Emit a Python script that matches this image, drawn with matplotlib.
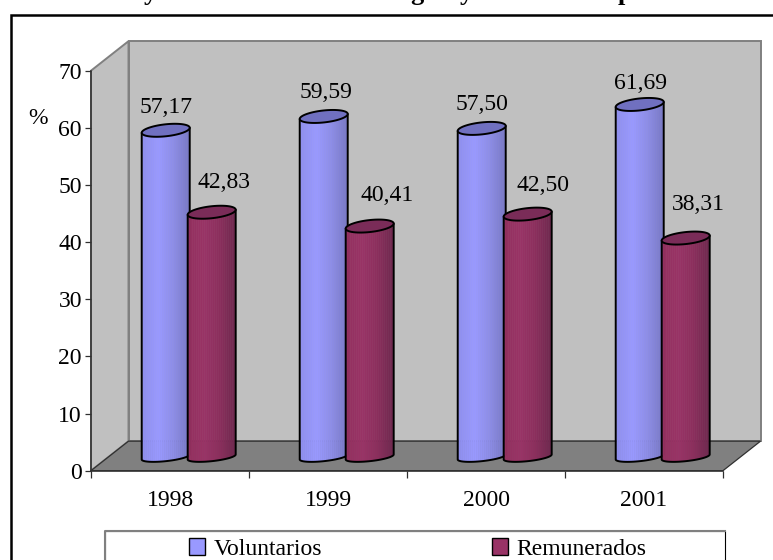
import numpy as np
import matplotlib
matplotlib.use("Agg")
import matplotlib.pyplot as plt
from matplotlib.colors import LinearSegmentedColormap
from matplotlib.patches import Polygon, Patch, Rectangle

years = ["1998", "1999", "2000", "2001"]
voluntarios = [57.17, 59.59, 57.50, 61.69]
remunerados = [42.83, 40.41, 42.50, 38.31]
value_labels_v = ["57,17", "59,59", "57,50", "61,69"]
value_labels_r = ["42,83", "40,41", "42,50", "38,31"]
y_ticks = [0, 10, 20, 30, 40, 50, 60, 70]

# label shifts in pixels
shift_v = [(0, 36), (2.5, 37.5), (0, 37.5), (1, 35)]
shift_r = [(12, 43), (17, 44.5), (15, 42), (13, 47.5)]

W, H = 773, 560
FS = 17
plt.rcParams["font.family"] = ["Liberation Serif", "DejaVu Serif"]

fig = plt.figure(figsize=(W / 100, H / 100), dpi=100)
ax = fig.add_axes([91 / W, (H - 470.67) / H, 632 / W, 400 / H])
ax.set_xlim(0, 4)
ax.set_ylim(0, 70)
ax.patch.set_visible(False)

px_x = 4 / 632
px_y = 70 / 400

# outer frame and legend box run past the edge of the picture
fig.add_artist(Rectangle((10.5 / W, -0.1), 1, 1.1 - 14.5 / H, transform=fig.transFigure,
                         fill=False, ec="black", lw=1.8))

# 3D walls
dx = 37.5 * px_x
dy = 29.5 * px_y
wall_kw = dict(clip_on=False, joinstyle="miter")
ax.add_patch(Polygon([(dx, dy), (4 + dx, dy), (4 + dx, 70 + dy), (dx, 70 + dy)],
                     fc="#C0C0C0", ec="#808080", lw=1.4, zorder=1, **wall_kw))
ax.add_patch(Polygon([(0, 0), (dx, dy), (dx, 70 + dy), (0, 70)],
                     fc="#C0C0C0", ec="#808080", lw=1.4, zorder=1, **wall_kw))
ax.add_patch(Polygon([(0, 0), (4, 0), (4 + dx, dy), (dx, dy)],
                     fc="#808080", ec="#303030", lw=0.9, zorder=1.5, **wall_kw))

cmap_v = LinearSegmentedColormap.from_list("v", ["#8F8FEF", "#9999FF", "#8C8CE6", "#7878C4"])
cmap_r = LinearSegmentedColormap.from_list("r", ["#93305F", "#993366", "#8A2E5C", "#6E284E"])

BAR_W = 48 * px_x
BASE = 13.7 * px_y
SKEW_PX = 2.5


def draw_cylinder(left, value, cmap, top_color, z):
    cx = left + BAR_W / 2
    a = BAR_W / 2
    top_y = value + BASE
    t = np.linspace(0, 2 * np.pi, 90)
    top_x = cx + a * np.cos(t)
    top_e = top_y + 6 * px_y * np.sin(t) + SKEW_PX * px_y * np.cos(t)

    # outline of the body: down the left side, round the base, up the right
    arc = np.linspace(np.pi, 2 * np.pi, 40)
    low_x = cx + a * np.cos(arc)
    low_y = BASE + 4.2 * px_y * np.sin(arc) + SKEW_PX * px_y * np.cos(arc)
    body = Polygon(np.column_stack([low_x, low_y]).tolist()
                   + [(cx + a, top_y + SKEW_PX * px_y), (cx - a, top_y - SKEW_PX * px_y)],
                   fc="none", ec="black", lw=1.4, zorder=z + 0.2, joinstyle="round")
    ax.add_patch(body)

    # shading as narrow bars, clipped to the body
    n = 24
    edges = np.linspace(left, left + BAR_W, n + 1)
    strips = ax.bar(edges[:-1], top_y + 2, width=BAR_W / n, align="edge",
                    color=[cmap(i / (n - 1)) for i in range(n)], zorder=z, lw=0.4)
    for s, c in zip(strips, [cmap(i / (n - 1)) for i in range(n)]):
        s.set_edgecolor(c)
        s.set_clip_path(body)

    ax.add_patch(Polygon(np.column_stack([top_x, top_e]), fc=top_color, ec="black",
                         lw=1.4, zorder=z + 0.3))


for i in range(len(years)):
    draw_cylinder(i + 0.321, voluntarios[i], cmap_v, "#7070C0", 3 + i)
    draw_cylinder(i + 0.612, remunerados[i], cmap_r, "#7A2C58", 3.5 + i)
    ax.annotate(value_labels_v[i], (i + 0.321 + BAR_W / 2, voluntarios[i]),
                xytext=(shift_v[i][0] * 0.72, shift_v[i][1] * 0.72), textcoords="offset points",
                ha="center", va="center", fontsize=FS, color="black", zorder=20, annotation_clip=False)
    ax.annotate(value_labels_r[i], (i + 0.612 + BAR_W / 2, remunerados[i]),
                xytext=(shift_r[i][0] * 0.72, shift_r[i][1] * 0.72), textcoords="offset points",
                ha="center", va="center", fontsize=FS, color="black", zorder=20, annotation_clip=False)

ax.set_xlim(0, 4)
ax.set_ylim(0, 70)

# axes
for side in ["top", "right"]:
    ax.spines[side].set_visible(False)
ax.spines["left"].set_color("#303030")
ax.spines["bottom"].set_color("#303030")
ax.spines["left"].set_linewidth(1.1)
ax.spines["bottom"].set_linewidth(1.1)
ax.spines["left"].set_zorder(2)
ax.spines["bottom"].set_zorder(2)
ax.set_yticks(y_ticks)
ax.set_yticklabels([str(v) for v in y_ticks], fontsize=FS)
ax.tick_params(axis="y", length=4.5, width=0.9, color="#303030", pad=2)
ax.set_xticks(range(5))
ax.set_xticklabels([])
ax.tick_params(axis="x", length=5, width=0.9, color="#303030")
ax.set_xticks(np.arange(len(years)) + 0.5, minor=True)
ax.set_xticklabels(years, minor=True, fontsize=FS)
ax.tick_params(axis="x", which="minor", length=0, pad=14)

fig.text(38 / W, 1 - 119 / H, "%", fontsize=FS, ha="center", va="center")

# only the descenders of the title are left in the picture
for x_px, letter in [(150, "y"), (417, "g"), (466, "y"), (625, "p")]:
    fig.text(x_px / W, 1.0, letter, fontsize=19, fontweight="bold",
             ha="center", va="baseline")

# legend
fig.add_artist(Rectangle((104.5 / W, -0.1), 620.5 / W, 0.1 + (H - 531) / H, transform=fig.transFigure,
                         fc="white", ec="black", lw=0.8))
fig.add_artist(plt.Line2D([104.5 / W, 104.5 / W, 725 / W], [0, (H - 531) / H, (H - 531) / H],
                          transform=fig.transFigure, color="#808080", lw=1.5))
handles = [Patch(fc="#9999FF", ec="black", lw=1), Patch(fc="#993366", ec="black", lw=1)]
leg = fig.legend(handles, ["Voluntarios", "Remunerados"], ncol=2, loc="center",
                 bbox_to_anchor=(418 / W, 1 - 549 / H), frameon=False, fontsize=FS,
                 handlelength=0.68, handleheight=0.68, handletextpad=0.36,
                 columnspacing=7.2, borderpad=0, borderaxespad=0)

fig.savefig("out.png", dpi=100, facecolor="white")
